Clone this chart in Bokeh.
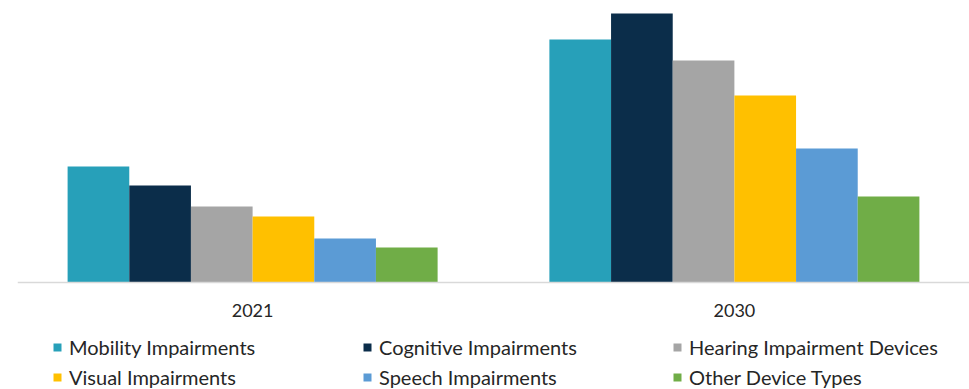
from bokeh.plotting import figure
from bokeh.models import ColumnDataSource, FactorRange, Range1d, Legend, LegendItem, Span
from bokeh.core.properties import value
from bokeh.transform import dodge
from bokeh.embed import file_html
from bokeh.resources import INLINE

years = ["2021", "2030"]
series = ["Mobility Impairments", "Cognitive Impairments", "Hearing Impairment Devices",
          "Visual Impairments", "Speech Impairments", "Other Device Types"]
values = {
    "Mobility Impairments": [116, 243],
    "Cognitive Impairments": [97, 269],
    "Hearing Impairment Devices": [76, 222],
    "Visual Impairments": [66, 187],
    "Speech Impairments": [44, 134],
    "Other Device Types": [35, 86],
}
colors = ["#27a0b9", "#0b2d4a", "#a5a5a5", "#ffc000", "#5b9bd5", "#70ad47"]

FONT = "Lato"
TXT = "#262626"

xr = FactorRange(*years, range_padding=-0.012, range_padding_units="absolute")
p = figure(width=969, height=389, x_range=xr,
           y_range=Range1d(-107, 282), output_backend="svg", toolbar_location=None,
           min_border_left=17, min_border_right=0, min_border_top=0, min_border_bottom=0)

src = ColumnDataSource(dict(year=years, **{f"s{i}": values[s] for i, s in enumerate(series)}))
w = 0.128
items = []
for i, s in enumerate(series):
    r = p.vbar(x=dodge("year", (i - 2.5) * w, range=p.x_range), top=f"s{i}", width=w,
               source=src, fill_color=colors[i], line_color=None)
    items.append(LegendItem(label=s, renderers=[r]))

# category axis: baseline and year labels
p.add_layout(Span(location=0, dimension="width", line_color="#d9d9d9", line_width=1.5))
p.text(x="year", y=-28, text="year", source=src, text_font=value(FONT), text_font_size="18px",
       text_color=TXT, text_align="center", text_baseline="middle")

p.xaxis.visible = False
p.yaxis.visible = False
p.xgrid.visible = False
p.ygrid.visible = False
p.outline_line_color = None

legend = Legend(items=items, ncols=3, orientation="horizontal", location=(35, 0))
legend.label_text_font = FONT
legend.label_text_font_size = "20px"
legend.label_text_color = TXT
legend.glyph_width = 10
legend.glyph_height = 10
legend.label_height = 24
legend.label_standoff = 7
legend.label_width = 287
legend.spacing = 6
legend.margin = 0
legend.padding = 0
legend.border_line_color = None
legend.background_fill_alpha = 0
p.add_layout(legend, "center")

open("out.html", "w").write(file_html(p, INLINE))
